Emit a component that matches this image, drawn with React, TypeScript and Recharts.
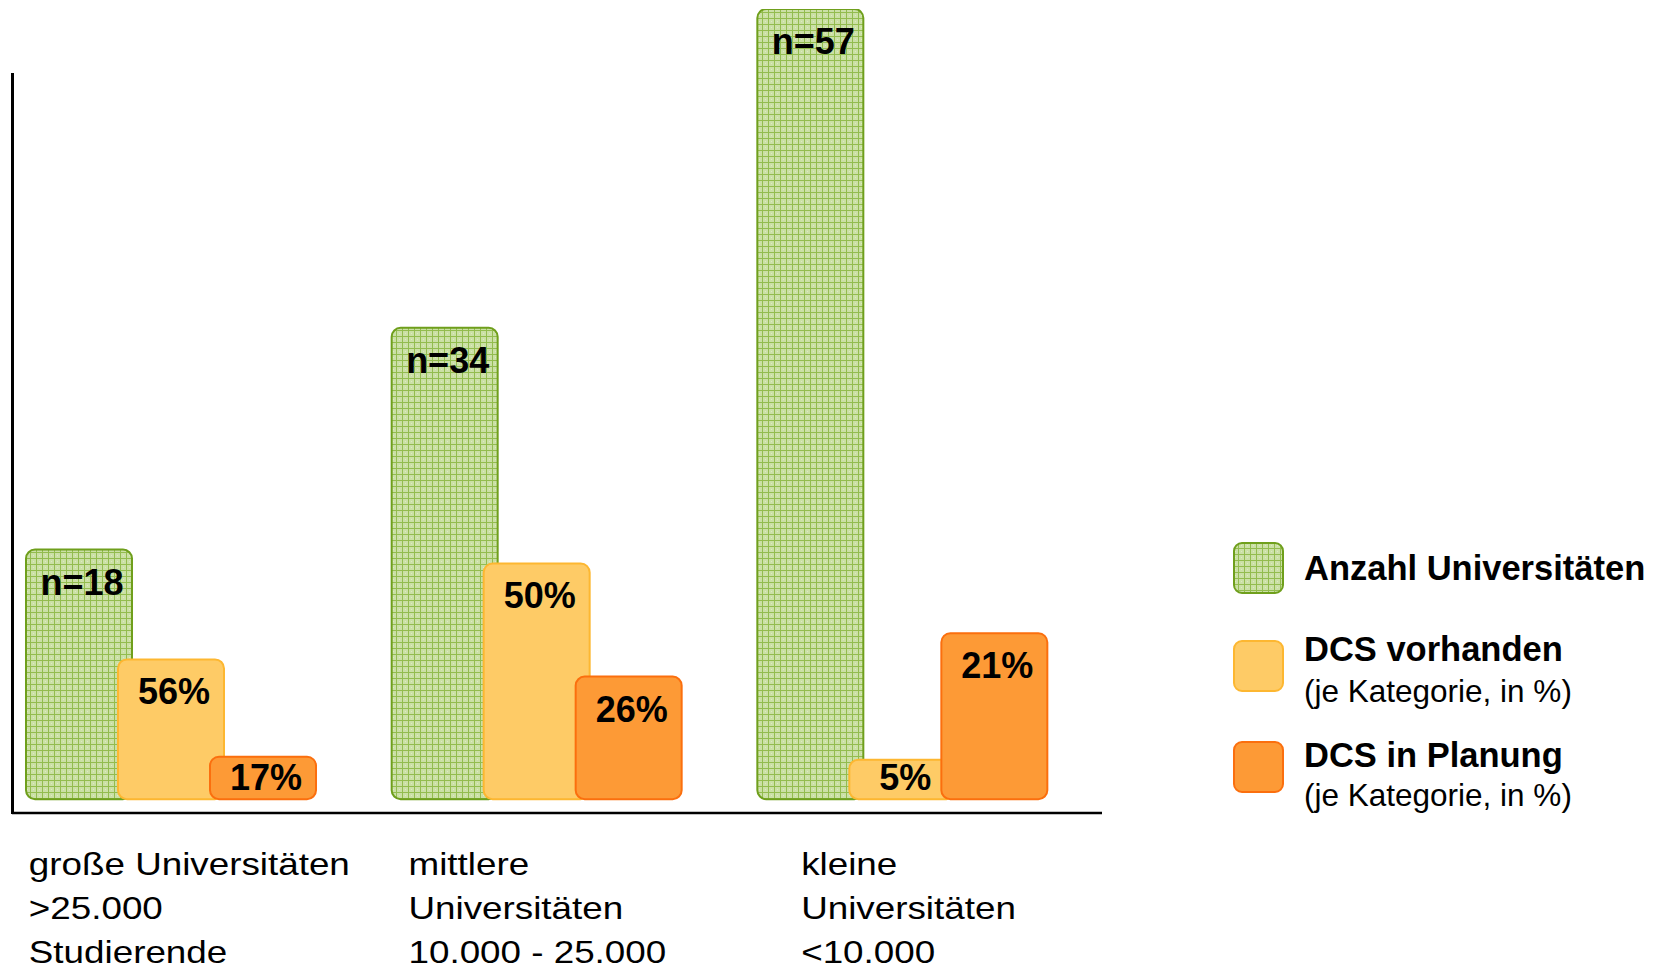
import React from 'react';
import { BarChart, Bar, XAxis, YAxis, LabelList, Legend } from 'recharts';

// Kategorien und Werte
const categories = ['groß', 'mittel', 'klein'];
const tickLines = [
  ['große Universitäten', '>25.000', 'Studierende'],
  ['mittlere', 'Universitäten', '10.000 - 25.000'],
  ['kleine', 'Universitäten', '<10.000'],
];
const anzahl = [18, 34, 57];
const vorhandenPct = [56, 50, 5];
const planungPct = [17, 26, 21];

// Balkenhöhe = Anteil an der Anzahl der Universitäten je Kategorie
const data = categories.map((key, i) => ({
  key,
  anzahl: anzahl[i],
  vorhanden: (anzahl[i] * vorhandenPct[i]) / 100,
  planung: (anzahl[i] * planungPct[i]) / 100,
}));

const FONT = '"Liberation Sans", Arial, Helvetica, sans-serif';
const TICK_DX = [-142, -128, -101];

const GREEN_STROKE = '#6f9f1c';
const YELLOW_FILL = '#fecb66';
const YELLOW_STROKE = '#fdb731';
const ORANGE_FILL = '#fd9a36';
const ORANGE_STROKE = '#fb6f0e';

const GridPattern = ({ id }: { id: string }) => (
  <pattern id={id} width={6} height={6} patternUnits="userSpaceOnUse">
    <rect width={6} height={6} fill="#cbe0a6" />
    <rect x={3} y={3} width={1} height={1} fill="#dcebc2" />
    <line x1={0.5} y1={0} x2={0.5} y2={6} stroke="#93bc4f" strokeWidth={1} />
    <line x1={0} y1={0.5} x2={6} y2={0.5} stroke="#93bc4f" strokeWidth={1} />
  </pattern>
);

const barLabel = (text: (i: number) => string) => (props: any) => {
  const vb = props.viewBox || props;
  const { x, y, width, height } = vb;
  const baseline = Math.min(y + 45, y + height - 9);
  return (
    <text
      x={x + width / 2 + 3}
      y={baseline}
      textAnchor="middle"
      fontFamily={FONT}
      fontWeight="bold"
      fontSize={36}
      fill="#000"
    >
      {text(props.index)}
    </text>
  );
};

const CategoryTick = (props: any) => {
  const { x, y, payload } = props;
  const i = payload.index;
  return (
    <text
      transform={`translate(${x + TICK_DX[i]},${y}) scale(1.15,1)`}
      fontFamily={FONT}
      fontSize={32}
      fill="#000"
    >
      {tickLines[i].map((line, k) => (
        <tspan key={k} x={0} y={62 + k * 44}>
          {line}
        </tspan>
      ))}
    </text>
  );
};

const legendItems = [
  { title: 'Anzahl Universitäten', sub: '', fill: 'url(#gridLegend)', stroke: GREEN_STROKE },
  { title: 'DCS vorhanden', sub: '(je Kategorie, in %)', fill: YELLOW_FILL, stroke: YELLOW_STROKE },
  { title: 'DCS in Planung', sub: '(je Kategorie, in %)', fill: ORANGE_FILL, stroke: ORANGE_STROKE },
];
const LEGEND_ROWS = [12, 110, 211];
const LEGEND_TITLE_DY = [38, 21, 26];
const LEGEND_SUB_DY = [0, 62, 65];

const LegendBox = () => (
  <svg width={437} height={300} style={{ display: 'block' }}>
    <defs>
      <GridPattern id="gridLegend" />
    </defs>
    {legendItems.map((item, i) => {
      const top = LEGEND_ROWS[i];
      return (
        <g key={item.title}>
          <rect x={14} y={top + 1} width={49} height={50} rx={8} fill={item.fill} stroke={item.stroke} strokeWidth={2} />
          <text x={84} y={top + LEGEND_TITLE_DY[i]} fontFamily={FONT} fontWeight="bold" fontSize={34.5} fill="#000">
            {item.title}
          </text>
          {item.sub && (
            <text x={84} y={top + LEGEND_SUB_DY[i]} fontFamily={FONT} fontSize={31.5} fill="#000">
              {item.sub}
            </text>
          )}
        </g>
      );
    })}
  </svg>
);

export default function App() {
  return (
    <div style={{ position: 'absolute', left: 0, top: 0, width: 1657, height: 968, background: '#fff' }}>
      <BarChart
        width={1657}
        height={968}
        data={data}
        margin={{ top: 9, right: 555, bottom: 5, left: 12 }}
        barSize={106}
        barGap={-14}
      >
        <defs>
          <GridPattern id="gridGreen" />
        </defs>
        <XAxis
          dataKey="key"
          height={150}
          padding={{ left: -24, right: 17 }}
          axisLine={{ stroke: '#000', strokeWidth: 2.5 }}
          tickLine={false}
          tickSize={0}
          tickMargin={0}
          interval={0}
          tick={<CategoryTick />}
        />
        <YAxis hide domain={[-1, 57]} allowDataOverflow />
        <Legend
          layout="vertical"
          align="center"
          verticalAlign="middle"
          wrapperStyle={{ left: 1220, top: 530, width: 437, height: 300 }}
          content={() => <LegendBox />}
        />
        <Bar dataKey="anzahl" fill="url(#gridGreen)" stroke={GREEN_STROKE} strokeWidth={2} radius={9} isAnimationActive={false}>
          <LabelList dataKey="anzahl" content={barLabel((i) => `n=${anzahl[i]}`)} />
        </Bar>
        <Bar dataKey="vorhanden" fill={YELLOW_FILL} stroke={YELLOW_STROKE} strokeWidth={2} radius={9} isAnimationActive={false}>
          <LabelList dataKey="vorhanden" content={barLabel((i) => `${vorhandenPct[i]}%`)} />
        </Bar>
        <Bar dataKey="planung" fill={ORANGE_FILL} stroke={ORANGE_STROKE} strokeWidth={2} radius={9} isAnimationActive={false}>
          <LabelList dataKey="planung" content={barLabel((i) => `${planungPct[i]}%`)} />
        </Bar>
      </BarChart>
      {/* y-Achse, kürzer als der Zeichenbereich */}
      <div style={{ position: 'absolute', left: 11, top: 73, width: 3, height: 741, background: '#000' }} />
    </div>
  );
}
